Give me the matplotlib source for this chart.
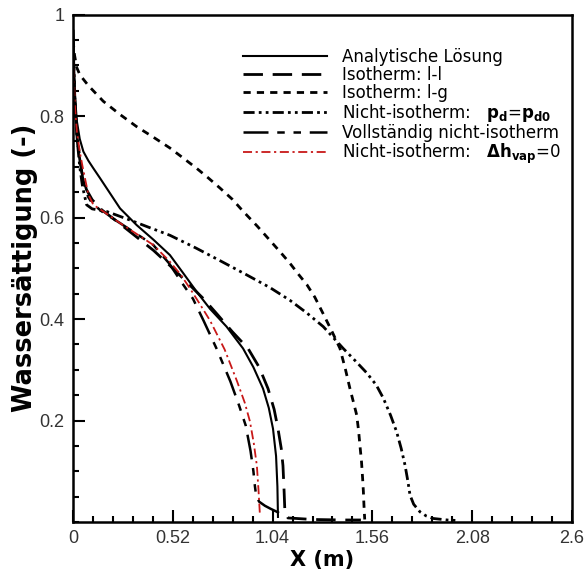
import numpy as np
import matplotlib.pyplot as plt
from matplotlib.ticker import MultipleLocator

x_ana = [0.0, 0.004, 0.01, 0.02, 0.035, 0.054, 0.08, 0.106, 0.14, 0.175, 0.245, 0.332, 0.42,
         0.505, 0.575, 0.644, 0.714, 0.8, 0.886, 0.94, 0.99, 1.02, 1.042, 1.058, 1.065, 1.068]
y_ana = [0.96, 0.90, 0.84, 0.79, 0.755, 0.73, 0.712, 0.697, 0.678, 0.658, 0.618, 0.585, 0.556,
         0.526, 0.49, 0.454, 0.42, 0.385, 0.342, 0.305, 0.263, 0.225, 0.184, 0.13, 0.07, 0.01]

x_ll = [0.0, 0.005, 0.012, 0.025, 0.045, 0.07, 0.1, 0.15, 0.22, 0.32, 0.42, 0.52, 0.6, 0.68,
        0.75, 0.83, 0.912, 0.97, 1.016, 1.048, 1.068, 1.085, 1.094, 1.1, 1.104, 1.12, 1.25,
        1.4, 1.5]
y_ll = [0.95, 0.88, 0.80, 0.74, 0.69, 0.655, 0.635, 0.615, 0.595, 0.565, 0.535, 0.50, 0.47,
        0.44, 0.41, 0.375, 0.342, 0.305, 0.263, 0.222, 0.184, 0.145, 0.111, 0.06, 0.02, 0.008,
        0.005, 0.004, 0.004]

x_lg = [0.0, 0.008, 0.019, 0.036, 0.08, 0.158, 0.245, 0.332, 0.42, 0.505, 0.575, 0.644, 0.705,
        0.766, 0.83, 0.887, 0.96, 1.026, 1.08, 1.13, 1.175, 1.218, 1.26, 1.304, 1.35, 1.391,
        1.42, 1.443, 1.462, 1.478, 1.488, 1.495, 1.503, 1.509, 1.513, 1.516, 1.52]
y_lg = [0.95, 0.92, 0.896, 0.881, 0.86, 0.829, 0.803, 0.779, 0.758, 0.737, 0.717, 0.697, 0.678,
        0.658, 0.636, 0.612, 0.583, 0.555, 0.532, 0.51, 0.488, 0.468, 0.443, 0.41, 0.375, 0.342,
        0.30, 0.263, 0.235, 0.211, 0.18, 0.151, 0.12, 0.086, 0.06, 0.033, 0.005]

x_pd = [0.0, 0.004, 0.01, 0.02, 0.035, 0.05, 0.071, 0.1, 0.175, 0.297, 0.4, 0.505, 0.64, 0.766,
        0.9, 1.026, 1.13, 1.218, 1.304, 1.408, 1.47, 1.53, 1.58, 1.617, 1.655, 1.686, 1.71,
        1.73, 1.745, 1.756, 1.775, 1.808, 1.84, 1.876, 1.95, 2.0]
y_pd = [0.97, 0.90, 0.83, 0.76, 0.70, 0.66, 0.625, 0.617, 0.612, 0.595, 0.58, 0.565, 0.54,
        0.515, 0.488, 0.462, 0.437, 0.412, 0.385, 0.342, 0.318, 0.294, 0.27, 0.244, 0.21, 0.178,
        0.145, 0.112, 0.08, 0.053, 0.035, 0.02, 0.012, 0.007, 0.004, 0.003]

x_voll = [0.0, 0.004, 0.01, 0.02, 0.035, 0.05, 0.065, 0.08, 0.1, 0.15, 0.245, 0.33, 0.418, 0.5,
          0.57, 0.625, 0.68, 0.75, 0.82, 0.865, 0.9, 0.925, 0.94, 0.948, 0.955, 0.97, 1.0, 1.03,
          1.063, 1.1]
y_voll = [0.97, 0.90, 0.83, 0.77, 0.72, 0.68, 0.655, 0.64, 0.628, 0.612, 0.589, 0.568, 0.546,
          0.51, 0.47, 0.44, 0.397, 0.34, 0.277, 0.23, 0.19, 0.14, 0.10, 0.07, 0.05, 0.04, 0.032,
          0.026, 0.02, 0.012]

x_dh = [0.0, 0.004, 0.01, 0.02, 0.035, 0.05, 0.0625, 0.08, 0.106, 0.158, 0.245, 0.33, 0.418, 0.5,
        0.56, 0.61, 0.66, 0.714, 0.79, 0.855, 0.895, 0.922, 0.942, 0.958, 0.967, 0.974]
y_dh = [0.93, 0.88, 0.82, 0.77, 0.73, 0.70, 0.677, 0.645, 0.625, 0.612, 0.589, 0.568, 0.546, 0.515,
        0.488, 0.46, 0.43, 0.397, 0.34, 0.277, 0.235, 0.198, 0.155, 0.111, 0.06, 0.013]

labels = ["Analytische Lösung",
          "Isotherm: l-l",
          "Isotherm: l-g",
          r"Nicht-isotherm:   $\mathbf{p_{d}}$=$\mathbf{p_{d0}}$",
          "Vollständig nicht-isotherm",
          r"Nicht-isotherm:   $\mathbf{\Delta h_{vap}}$=0"]

fig = plt.figure(figsize=(5.86, 5.77), dpi=100)
ax = fig.add_axes([0.1246, 0.0953, 0.8515, 0.8795])

lw = 1.5
ax.plot(x_ana, y_ana, color='black', lw=lw, label=labels[0])
ax.plot(x_ll, y_ll, color='black', lw=lw + 0.5, dashes=(7, 3.5), label=labels[1])
ax.plot(x_lg, y_lg, color='black', lw=lw + 0.5, dashes=(2.6, 2.2), label=labels[2])
ax.plot(x_pd, y_pd, color='black', lw=lw + 0.5, dashes=(4, 1.5, 1, 1.5, 1, 1.5), label=labels[3])
ax.plot(x_voll, y_voll, color='black', lw=lw + 0.3, dashes=(10, 3.5, 3, 3.5, 3, 3.5), label=labels[4])
ax.plot(x_dh, y_dh, color='#c81818', lw=lw - 0.2, dashes=(5, 2, 1.2, 2), label=labels[5])

ax.set_xlim(0, 2.6)
ax.set_ylim(0, 1)
ax.set_xticks([0, 0.52, 1.04, 1.56, 2.08, 2.6])
ax.set_xticklabels(["0", "0.52", "1.04", "1.56", "2.08", "2.6"])
ax.set_yticks([0.2, 0.4, 0.6, 0.8, 1.0])
ax.set_yticklabels(["0.2", "0.4", "0.6", "0.8", "1"])
ax.xaxis.set_minor_locator(MultipleLocator(0.104))
ax.yaxis.set_minor_locator(MultipleLocator(0.05))
ax.tick_params(which='both', direction='in', top=False, right=False, width=1.5,
               labelsize=13, labelcolor='#333333', labelfontfamily='Liberation Sans', pad=6)
ax.tick_params(which='major', length=8.5)
ax.tick_params(which='minor', length=4.5)
for s in ax.spines.values():
    s.set_linewidth(1.8)

ax.set_xlabel("X (m)", fontsize=15, fontweight='bold', labelpad=2)
ax.set_ylabel("Wassersättigung (-)", fontsize=18.5, fontweight='bold', labelpad=1)

ax.legend(loc='upper right', bbox_to_anchor=(1.0, 0.958), frameon=False, fontsize=12,
          handlelength=5.0, handletextpad=0.9, labelspacing=0.0, borderaxespad=0.3)

fig.savefig("out.png", dpi=100)
